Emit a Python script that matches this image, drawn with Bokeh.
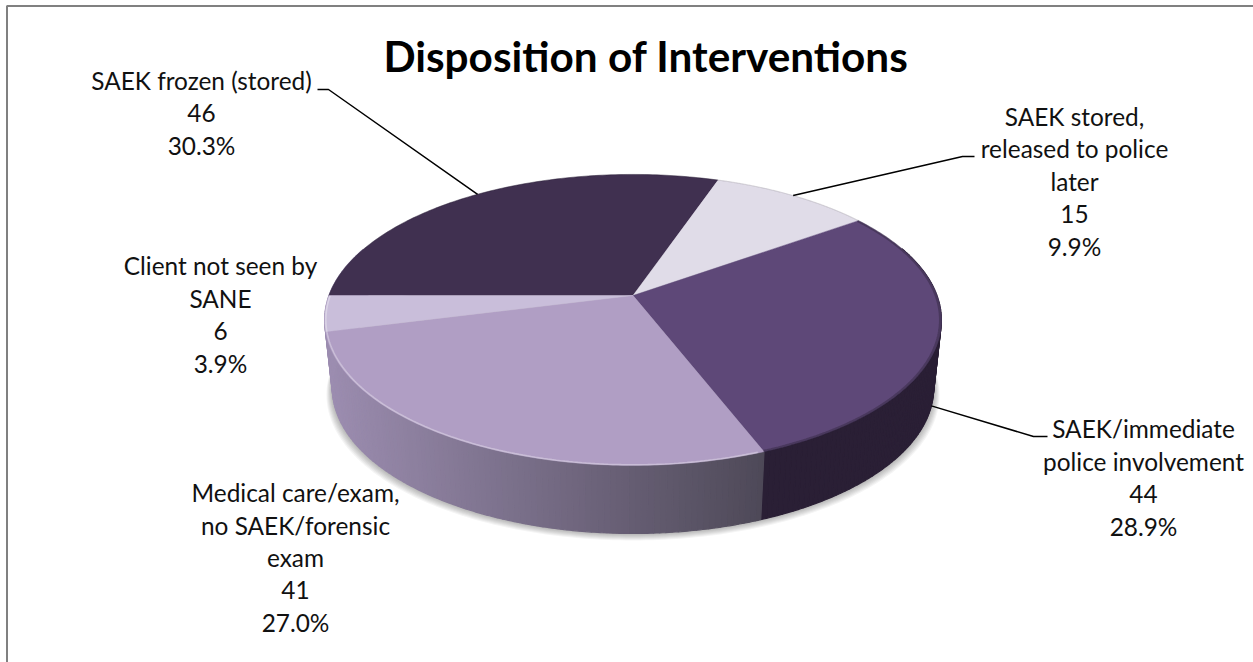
import numpy as np
from bokeh.embed import file_html
from bokeh.resources import INLINE
from bokeh.plotting import figure
from bokeh.models import ColumnDataSource, Range1d
from bokeh.core.properties import value

# ---- data
title = "Disposition of Interventions"
label_lines = [
    ["SAEK frozen (stored)"],
    ["SAEK stored,", "released to police", "later"],
    ["SAEK/immediate", "police involvement"],
    ["Medical care/exam,", "no SAEK/forensic", "exam"],
    ["Client not seen by", "SANE"],
]
counts = [46, 15, 44, 41, 6]
percents = ["30.3%", "9.9%", "28.9%", "27.0%", "3.9%"]

# ---- style / layout
top_colors = ["#403050", "#E0DCE8", "#5E4878", "#B09EC4", "#C9BEDA"]
label_x = [201, 1074, 1143, 295, 220]
label_y0 = [80, 115.5, 428, 492, 265]
line_step = 32.6
LABEL_FONT = "Lato"
LABEL_SIZE = "24.4px"
TITLE_SIZE = "42.3px"
W, H = 1253, 662
CX, CY, A, B, K = 632.5, 295.0, 304.0, 141.4, 0.168
DEPTH, BOTTOM_SCALE = 68.0, 0.975
START = 270.0


def top_pt(theta):
    t = np.radians(np.asarray(theta, dtype=float))
    u, v = np.sin(t), np.cos(t)
    w = 1 + K * v
    return CX + A * u / w, CY - B * v / w


def wall_pt(theta):
    x, y = top_pt(theta)
    return CX + (x - CX) * BOTTOM_SCALE, y + DEPTH


def mix(c0, c1, f):
    a = [int(c0[i:i + 2], 16) for i in (1, 3, 5)]
    b = [int(c1[i:i + 2], 16) for i in (1, 3, 5)]
    return "#%02x%02x%02x" % tuple(int(round(p + (q - p) * f)) for p, q in zip(a, b))


p = figure(width=W, height=H, x_range=Range1d(0, W), y_range=Range1d(H, 0),
           output_backend="svg", toolbar_location=None, min_border=0,
           outline_line_color=None, background_fill_color="white")
p.axis.visible = False
p.grid.visible = False

# frame (only the top and left edges are in view)
p.line([6.5, 6.5, W], [H, 5.5, 5.5], line_color="#808080", line_width=2)

total = sum(counts)
edges = START + np.concatenate([[0], np.cumsum(counts)]) * 360.0 / total

# soft shadow under the disc
th = np.linspace(0, 360, 361)
bx, by = wall_pt(th)
for i in range(7, 0, -1):
    s = 1 + i * 0.0028
    p.patch(CX + (bx - CX) * s, by + i * 1.0, fill_color="#000000", fill_alpha=0.045, line_color=None)

# side wall, made of thin strips
xs, ys, cols = [], [], []
for k in range(len(counts)):
    a0, a1 = edges[k], edges[k + 1]
    n = max(2, int(abs(a1 - a0)))
    grid = np.linspace(a0, a1, n + 1)
    for g0, g1 in zip(grid[:-1], grid[1:]):
        mid = ((g0 + g1) / 2) % 360
        if not (70 < mid < 290):
            continue
        sector = np.linspace(g0, g1, 3)
        tx, ty = top_pt(sector)
        wx, wy = wall_pt(sector)
        mx, _ = top_pt(mid)
        if k == 2:
            c = "#2A1F35"
        else:
            f = min(1.0, max(0.0, (mx - 325) / 438))
            c = mix("#9C8DB0", "#4E4958", f)
        xs.append(list(tx) + list(wx[::-1]))
        ys.append(list(ty) + list(wy[::-1]))
        cols.append(c)
p.patches("xs", "ys", source=ColumnDataSource(dict(xs=xs, ys=ys, c=cols)),
          fill_color="c", line_color="c", line_width=1.2)

# top face
for k in range(len(counts)):
    arc = np.linspace(edges[k], edges[k + 1], 120)
    ax, ay = top_pt(arc)
    p.patch([CX] + list(ax), [CY] + list(ay), fill_color=top_colors[k],
            line_color=top_colors[k], line_width=0.4)

# rim shading on the top face
def rim(a0, a1, color, alpha, width, inset=0.0):
    arc = np.linspace(a0, a1, 160)
    ax, ay = top_pt(arc)
    p.line(CX + (ax - CX) * (1 - inset), CY + (ay - CY) * (1 - inset),
           line_color=color, line_alpha=alpha, line_width=width)

rim(edges[3] + 1, edges[4] + 14, "#ffffff", 0.32, 1.6, 0.004)
rim(edges[2], edges[3], "#000000", 0.22, 2.4, 0.004)
rim(edges[1], edges[2], "#000000", 0.10, 1.2, 0.0)
rim(edges[0], edges[1], "#000000", 0.15, 1.0, 0.0)

# leader lines, anchored at the middle of each slice
elbows = {0: [(317, 89), (328, 89)], 1: [(974, 156), (962, 156)], 2: [(1047, 436), (1033, 436)]}
for k, pts in elbows.items():
    mid = (edges[k] + edges[k + 1]) / 2
    ax, ay = wall_pt(mid) if 90 < (mid % 360) < 270 else top_pt(mid)
    p.line([pts[0][0], pts[1][0], float(ax)], [pts[0][1], pts[1][1], float(ay)],
           line_color="#000000", line_width=1.5)

# labels
tx, ty, tt = [], [], []
for k in range(len(counts)):
    lines = label_lines[k] + [str(counts[k]), percents[k]]
    for j, s in enumerate(lines):
        tx.append(label_x[k]); ty.append(label_y0[k] + j * line_step); tt.append(s)
p.text(tx, ty, text=tt, text_font=value(LABEL_FONT), text_font_size=LABEL_SIZE,
       text_align="center", text_baseline="alphabetic", text_color="#111111")
p.text([645.5], [55], text=[title], text_font=value(LABEL_FONT), text_font_size=TITLE_SIZE,
       text_font_style="bold", text_align="center", text_baseline="alphabetic", text_color="#000000")

open("out.html", "w").write(file_html(p, INLINE))
